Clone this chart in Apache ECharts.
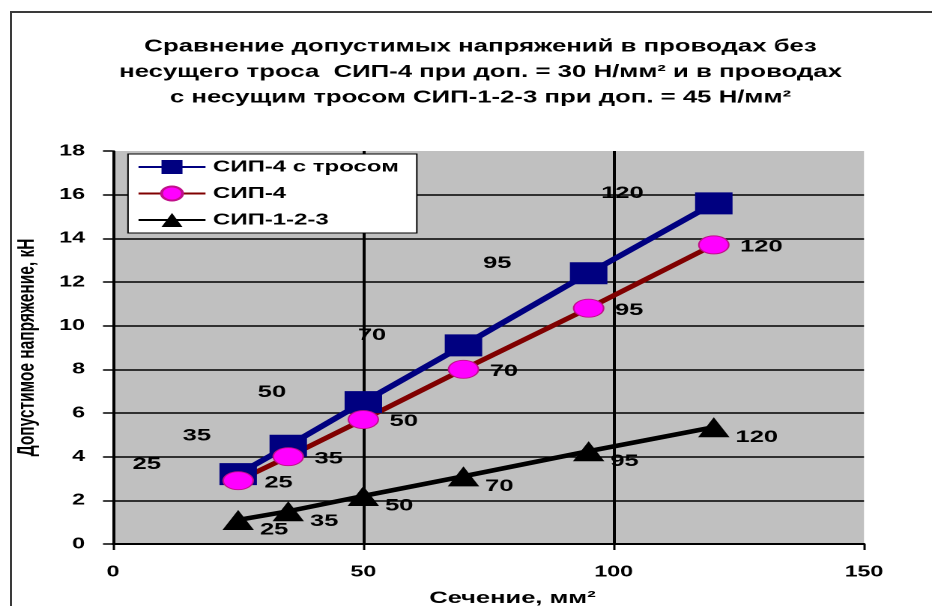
<!DOCTYPE html>
<html>
<head>
<meta charset="utf-8">
<title>Сравнение допустимых напряжений</title>
<script src="https://cdn.jsdelivr.net/npm/echarts@6/dist/echarts.min.js"></script>
<style>
  html, body { margin: 0; padding: 0; background: #fff; overflow: hidden; }
  #wrap { width: 932px; height: 606px; overflow: hidden; position: relative; background: #fff; }
  /* frame around the chart: only its top and left edges fall inside the page */
  #frame {
    position: absolute; left: 10px; top: 11px; width: 1200px; height: 1200px;
    border-top: 2px solid #3a3a3a; border-left: 2px solid #3a3a3a;
    pointer-events: none; box-sizing: border-box;
  }
  /* the chart is laid out on a narrower canvas and widened horizontally */
  #chart { position: absolute; left: 0; top: 0; width: 622px; height: 606px; transform-origin: 0 0; }
</style>
</head>
<body>
<div id="wrap"><div id="chart"></div><div id="frame"></div></div>
<script>
// Cross-sections of the wires, mm²
const sections = [25, 35, 50, 70, 95, 120];
// Permissible tension, kN
const sip4WithCable = [3.2, 4.5, 6.5, 9.1, 12.4, 15.6];
const sip4 = [2.9, 4.0, 5.7, 8.0, 10.8, 13.7];
const sip123 = [1.1, 1.5, 2.2, 3.1, 4.25, 5.35];

const seriesNames = ['СИП-4 с тросом', 'СИП-4', 'СИП-1-2-3'];
const titleLines = [
  'Сравнение допустимых напряжений в проводах без',
  'несущего троса  СИП-4 при доп. = 30 Н/мм² и в проводах',
  'с несущим тросом СИП-1-2-3 при доп. = 45 Н/мм²'
];
const xAxisName = 'Сечение, мм²';
const yAxisName = 'Допустимое напряжение, кН';
const xTicks = { min: 0, max: 150, interval: 50 };
const yTicks = { min: 0, max: 18, interval: 2 };

const STRETCH = 932 / 622;
const u = v => v / STRETCH;   // horizontal screen px -> layout px
const FONT = "'Liberation Sans', Arial, sans-serif";

const el = document.getElementById('chart');
el.style.transform = 'scaleX(' + STRETCH + ')';
const chart = echarts.init(el, null, { renderer: 'canvas', devicePixelRatio: 2 });

const pairs = ys => sections.map((x, i) => [x, ys[i]]);
const labelText = {
  show: true,
  color: '#000',
  fontFamily: FONT,
  fontWeight: 'bold',
  fontSize: 17,
  formatter: p => String(p.value[0])
};

chart.setOption({
  animation: false,
  backgroundColor: 'transparent',
  textStyle: { fontFamily: FONT },
  title: {
    text: titleLines.join('\n'),
    left: u(473),
    top: 29,
    textAlign: 'center',
    textStyle: {
      fontFamily: FONT, fontWeight: 'bold', fontSize: 17.2,
      lineHeight: 25.5, color: '#000'
    }
  },
  legend: {
    orient: 'vertical',
    left: u(128),
    top: 154,
    itemWidth: u(67),
    itemHeight: 17.5,
    itemGap: 10.5,
    padding: [5, 12, 5, 6],
    backgroundColor: '#fff',
    borderColor: '#000',
    borderWidth: 1,
    textStyle: { fontFamily: FONT, fontWeight: 'bold', fontSize: 16, color: '#000' },
    data: seriesNames
  },
  grid: {
    left: u(113),
    right: 622 - u(864),
    top: 151,
    bottom: 62,
    outerBoundsMode: 'none',
    containLabel: false,
    show: true,
    backgroundColor: '#c0c0c0',
    borderWidth: 0
  },
  xAxis: {
    type: 'value',
    min: xTicks.min, max: xTicks.max, interval: xTicks.interval,
    name: xAxisName,
    nameLocation: 'middle',
    nameGap: 46,
    nameTextStyle: {
      fontFamily: FONT, fontWeight: 'bold', fontSize: 17, color: '#000',
      padding: [0, 0, 0, 32]
    },
    axisLine: { show: true, lineStyle: { color: '#000', width: 2 } },
    axisTick: { show: true, length: 6, lineStyle: { color: '#000', width: 1.5 } },
    axisLabel: { margin: 20, color: '#000', fontFamily: FONT, fontWeight: 'bold', fontSize: 15.5 },
    splitLine: { show: true, showMaxLine: false, lineStyle: { color: '#000', width: 2 } }
  },
  yAxis: {
    type: 'value',
    min: yTicks.min, max: yTicks.max, interval: yTicks.interval,
    name: yAxisName,
    nameLocation: 'middle',
    nameRotate: 90,
    nameGap: 49,
    nameTextStyle: { fontFamily: FONT, fontWeight: 'bold', fontSize: 15.5, color: '#000' },
    axisLine: { show: true, lineStyle: { color: '#000', width: 1.6 } },
    axisTick: { show: true, length: u(10), lineStyle: { color: '#000', width: 1.5 } },
    axisLabel: { margin: u(28), color: '#000', fontFamily: FONT, fontWeight: 'bold', fontSize: 15.5 },
    splitLine: { show: true, showMaxLine: false, lineStyle: { color: '#000', width: 1.5 } }
  },
  series: [
    {
      name: seriesNames[0],
      type: 'line',
      data: pairs(sip4WithCable),
      symbol: 'rect',
      symbolSize: [25, 22],
      itemStyle: { color: '#000080' },
      lineStyle: { color: '#000080', width: 5 },
      label: Object.assign({}, labelText, { position: 'inside', offset: [-61, -10] })
    },
    {
      name: seriesNames[1],
      type: 'line',
      data: pairs(sip4),
      symbol: 'circle',
      symbolSize: [20, 18],
      itemStyle: { color: '#ff00ff', borderColor: '#c0108a', borderWidth: 1 },
      lineStyle: { color: '#800000', width: 4.5 },
      label: Object.assign({}, labelText, { position: 'right', distance: 7, offset: [0, 2] })
    },
    {
      name: seriesNames[2],
      type: 'line',
      data: pairs(sip123),
      symbol: 'triangle',
      symbolSize: [21, 20],
      itemStyle: { color: '#000' },
      lineStyle: { color: '#000', width: 4.5 },
      label: Object.assign({}, labelText, { position: 'right', distance: 4, offset: [0, 10] })
    }
  ]
});
</script>
</body>
</html>
